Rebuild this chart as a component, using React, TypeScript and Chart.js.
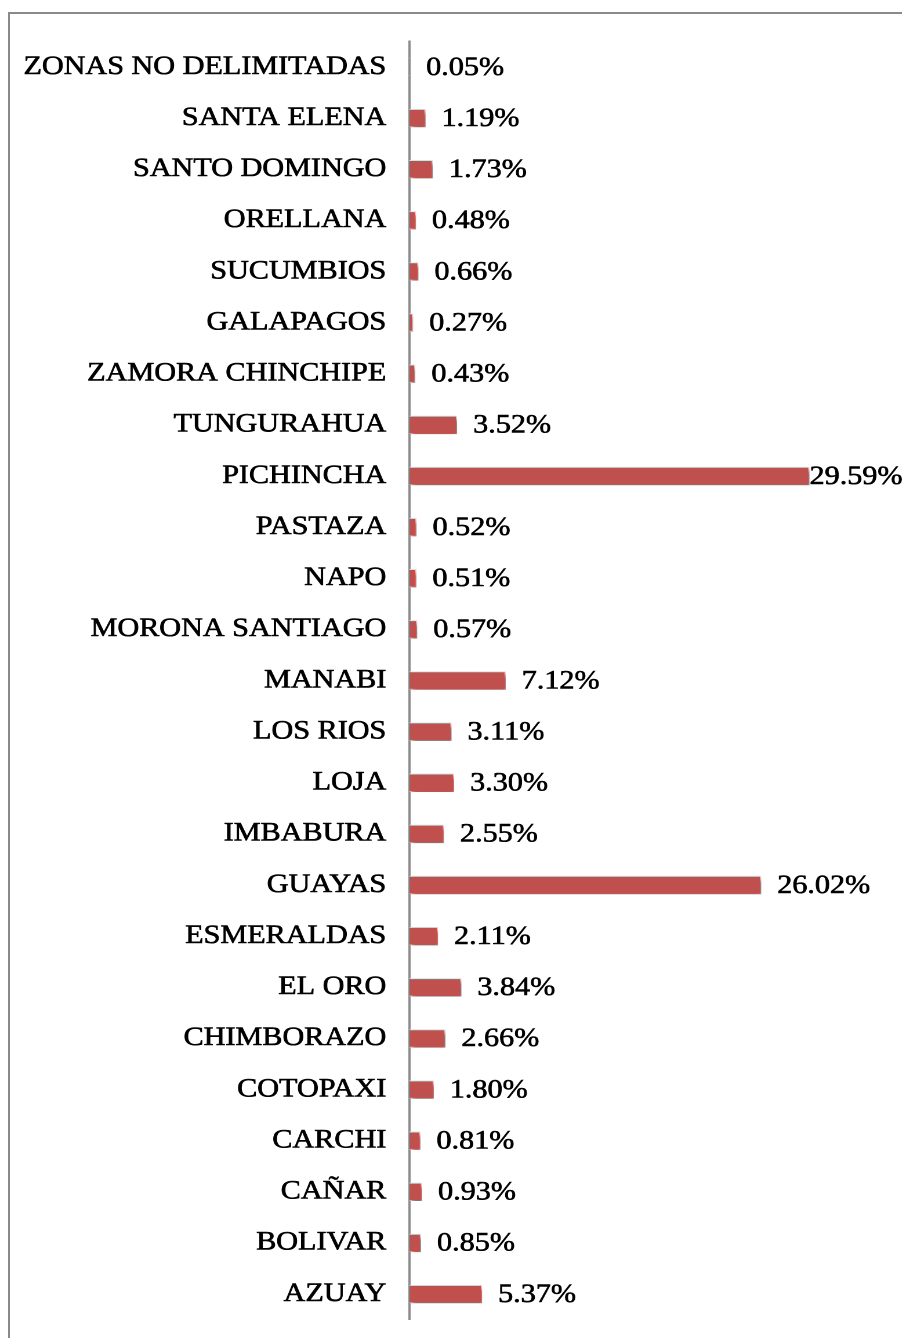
import React, { useEffect, useRef } from "react";
import { Chart, registerables } from "chart.js";

Chart.register(...registerables);

const categories = [
  "ZONAS NO DELIMITADAS",
  "SANTA ELENA",
  "SANTO DOMINGO",
  "ORELLANA",
  "SUCUMBIOS",
  "GALAPAGOS",
  "ZAMORA CHINCHIPE",
  "TUNGURAHUA",
  "PICHINCHA",
  "PASTAZA",
  "NAPO",
  "MORONA SANTIAGO",
  "MANABI",
  "LOS RIOS",
  "LOJA",
  "IMBABURA",
  "GUAYAS",
  "ESMERALDAS",
  "EL ORO",
  "CHIMBORAZO",
  "COTOPAXI",
  "CARCHI",
  "CAÑAR",
  "BOLIVAR",
  "AZUAY",
];

const values = [
  0.05, 1.19, 1.73, 0.48, 0.66, 0.27, 0.43, 3.52, 29.59, 0.52, 0.51, 0.57,
  7.12, 3.11, 3.3, 2.55, 26.02, 2.11, 3.84, 2.66, 1.8, 0.81, 0.93, 0.85, 5.37,
];

const S = 1.16; // horizontal stretch of the whole drawing
const W = 778;
const H = 1338;
const FONT = '"Liberation Serif", "Times New Roman", serif';

export default function App() {
  const ref = useRef<HTMLCanvasElement | null>(null);

  useEffect(() => {
    const canvas = ref.current;
    if (!canvas) return;

    const shadowPlugin = {
      id: "barShadow",
      beforeDatasetsDraw(chart: any) {
        const ctx = chart.ctx;
        const dpr = chart.currentDevicePixelRatio || 1;
        ctx.save();
        ctx.shadowColor = "rgba(0,0,0,0.55)";
        ctx.shadowBlur = 4 * dpr;
        ctx.shadowOffsetX = 2 * dpr;
        ctx.shadowOffsetY = 3 * dpr;
      },
      afterDatasetsDraw(chart: any) {
        chart.ctx.restore();
      },
    };

    const labelPlugin = {
      id: "valueLabels",
      afterDatasetsDraw(chart: any) {
        const ctx = chart.ctx;
        const meta = chart.getDatasetMeta(0);
        ctx.save();
        ctx.shadowColor = "transparent";
        ctx.font = `26px ${FONT}`;
        ctx.fillStyle = "#000";
        ctx.strokeStyle = "#000";
        ctx.lineWidth = 0.6;
        ctx.textBaseline = "middle";
        ctx.textAlign = "left";
        meta.data.forEach((bar: any, i: number) => {
          const txt = values[i].toFixed(2) + "%";
          const w = ctx.measureText(txt).width;
          let x = bar.x + 13.8;
          if (x + w > W) x = W - w;
          ctx.fillText(txt, x, bar.y + 1);
          ctx.strokeText(txt, x, bar.y + 1);
        });
        ctx.restore();
      },
    };

    const chart = new Chart(canvas, {
      type: "bar",
      data: {
        labels: categories,
        datasets: [
          {
            data: values,
            backgroundColor: "#C0504D",
            borderColor: "#F2DCDB",
            borderWidth: 1,
            barPercentage: 0.36,
            categoryPercentage: 1,
          },
        ],
      },
      options: {
        indexAxis: "y",
        responsive: false,
        animation: false,
        devicePixelRatio: 2,
        layout: {
          padding: { left: 0, right: W - 815 / S, top: 41.4, bottom: 18.4 },
        },
        plugins: {
          legend: { display: false },
          tooltip: { enabled: false },
        },
        scales: {
          x: {
            display: false,
            min: 0,
            max: 30,
          },
          y: {
            afterFit(scale: any) {
              scale.width = 409.5 / S;
              scale.paddingTop = 0;
              scale.paddingBottom = 0;
            },
            grid: { display: false, drawTicks: false },
            border: { display: true, color: "#8c8c8c", width: 2 },
            ticks: {
              color: "#000",
              padding: 20,
              autoSkip: false,
              textStrokeColor: "#000",
              textStrokeWidth: 0.6,
              font: { family: FONT, size: 26 },
            },
          },
        },
      },
      plugins: [shadowPlugin, labelPlugin],
    });

    return () => chart.destroy();
  }, []);

  return (
    <div
      style={{
        position: "absolute",
        left: 0,
        top: 0,
        width: 902,
        height: 1338,
        overflow: "hidden",
        background: "#fff",
      }}
    >
      <div
        style={{
          position: "absolute",
          left: 8,
          top: 12,
          width: 1200,
          height: 1600,
          border: "2px solid #8a8a8a",
          boxSizing: "border-box",
        }}
      />
      <div
        style={{
          position: "absolute",
          left: 0,
          top: 0,
          transform: `scaleX(${S})`,
          transformOrigin: "0 0",
        }}
      >
        <canvas ref={ref} width={W} height={H} style={{ display: "block" }} />
      </div>
    </div>
  );
}
